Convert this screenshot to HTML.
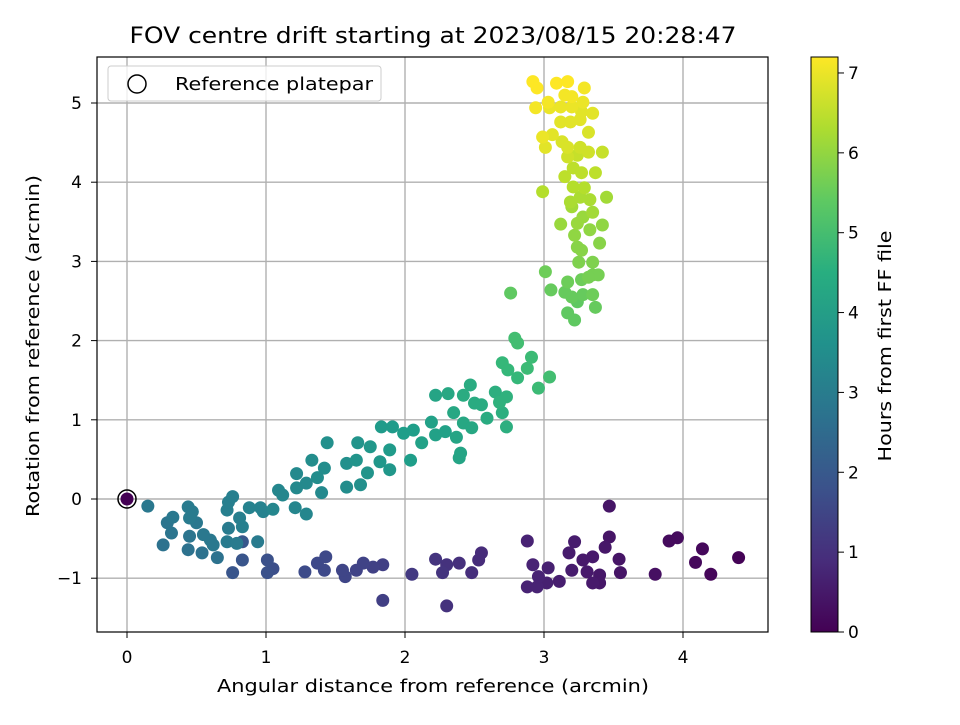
<!DOCTYPE html>
<html><head><meta charset="utf-8"><style>
body{margin:0;background:#fff;font-family:"Liberation Sans","DejaVu Sans",sans-serif}
svg text{font-family:"DejaVu Sans","Liberation Sans",sans-serif;fill:#000}
</style></head><body>
<svg id="c" width="960" height="720" viewBox="0 0 960 720" xmlns="http://www.w3.org/2000/svg">
<defs><linearGradient id="vir" x1="0" y1="1" x2="0" y2="0">
<stop offset="0" stop-color="#440154"/><stop offset="0.125" stop-color="#472d7b"/><stop offset="0.25" stop-color="#3b528b"/><stop offset="0.375" stop-color="#2c728e"/><stop offset="0.5" stop-color="#21918c"/><stop offset="0.625" stop-color="#28ae80"/><stop offset="0.75" stop-color="#5ec962"/><stop offset="0.875" stop-color="#addc30"/><stop offset="1" stop-color="#fde725"/></linearGradient></defs>
<g id="grid"></g>
<g id="pts"></g>
<rect x="97" y="57" width="671" height="575" fill="none" stroke="#000" stroke-width="1.2"/>
<g id="ticks"></g>
<text x="433" y="43" font-size="22" text-anchor="middle" textLength="607" lengthAdjust="spacingAndGlyphs">FOV centre drift starting at 2023/08/15 20:28:47</text>
<text x="433" y="692" font-size="18" text-anchor="middle" textLength="432" lengthAdjust="spacingAndGlyphs">Angular distance from reference (arcmin)</text>
<text x="39" y="346" font-size="18" text-anchor="middle" textLength="342" lengthAdjust="spacingAndGlyphs" transform="rotate(-90 39 346)">Rotation from reference (arcmin)</text>
<g>
<rect x="108" y="66" width="273" height="35" rx="3" fill="#fff" fill-opacity="0.8" stroke="#ccc"/>
<circle cx="137" cy="84" r="9" fill="none" stroke="#000" stroke-width="1.5"/>
<text x="175" y="90" font-size="18" textLength="198" lengthAdjust="spacingAndGlyphs">Reference platepar</text>
</g>
<rect x="811" y="57" width="27" height="575" fill="url(#vir)" stroke="#000" stroke-width="1"/>
<g id="cbt"></g>
<text x="891" y="346" font-size="18" text-anchor="middle" textLength="231" lengthAdjust="spacingAndGlyphs" transform="rotate(-90 891 346)">Hours from first FF file</text>
</svg>
<script>
const xs=[4.40,4.20,4.09,4.14,3.96,3.90,3.80,3.47,3.47,3.54,3.55,3.44,3.40,3.35,3.35,3.28,3.20,3.22,3.18,3.31,3.40,3.03,3.11,2.92,2.88,2.88,2.95,3.02,2.96,2.55,2.53,2.48,2.39,2.30,2.22,2.27,2.30,2.05,1.84,1.84,1.77,1.70,1.65,1.57,1.55,1.43,1.42,1.37,1.28,1.05,1.01,1.01,0.76,0.83,0.83,
0.15,0.26,0.29,0.33,0.32,0.44,0.47,0.45,0.50,0.45,0.44,0.54,0.55,0.60,0.62,0.65,0.72,0.73,0.72,0.73,0.76,0.79,0.83,0.81,0.88,0.94,0.96,0.98,1.05,1.09,1.12,1.21,1.22,1.22,1.29,1.29,1.33,1.37,1.40,1.42,1.44,1.58,1.58,1.66,1.68,1.65,1.73,1.75,1.82,1.83,1.89,1.89,1.91,1.99,2.04,2.06,2.12,2.19,2.22,2.22,2.29,2.37,2.40,2.39,2.31,2.35,2.42,2.47,2.42,2.48,2.50,2.55,2.59,2.65,2.70,2.68,2.73,2.73,2.70,2.74,2.79,2.81,2.81,2.88,2.91,2.96,3.04,2.76,
2.92,2.95,3.09,3.17,3.29,3.15,3.20,2.94,3.03,3.04,3.12,3.20,3.28,3.27,3.35,3.12,3.19,3.26,3.32,2.99,3.06,3.01,3.13,3.17,3.26,3.32,3.42,3.17,3.24,3.21,3.15,3.27,3.37,3.21,2.99,3.29,3.19,3.26,3.33,3.45,3.35,3.20,3.28,3.12,3.24,3.42,3.33,3.22,3.40,3.24,3.27,3.25,3.35,3.01,3.35,3.39,3.27,3.17,3.32,3.05,3.15,3.20,3.28,3.35,3.24,3.37,3.17,3.22];
const ys=[-0.74,-0.95,-0.80,-0.63,-0.49,-0.53,-0.95,-0.09,-0.48,-0.76,-0.93,-0.61,-0.96,-1.06,-0.73,-0.77,-0.90,-0.54,-0.68,-0.92,-1.06,-0.87,-1.04,-0.83,-0.53,-1.11,-1.11,-1.06,-0.98,-0.68,-0.77,-0.93,-0.81,-0.83,-0.76,-0.93,-1.35,-0.95,-0.83,-1.28,-0.86,-0.81,-0.90,-0.98,-0.90,-0.73,-0.90,-0.81,-0.92,-0.88,-0.93,-0.77,-0.93,-0.77,-0.54,
-0.09,-0.58,-0.30,-0.23,-0.43,-0.10,-0.16,-0.24,-0.30,-0.47,-0.64,-0.68,-0.45,-0.52,-0.58,-0.74,-0.54,-0.37,-0.14,-0.04,0.03,-0.56,-0.35,-0.24,-0.11,-0.54,-0.11,-0.16,-0.13,0.11,0.05,-0.11,0.14,0.32,-0.19,0.20,0.49,0.27,0.08,0.39,0.71,0.15,0.45,0.71,0.18,0.49,0.33,0.66,0.47,0.91,0.37,0.62,0.91,0.83,0.49,0.87,0.71,0.97,1.31,0.81,0.85,0.78,0.58,0.52,1.33,1.09,0.96,1.44,1.31,0.90,1.21,1.19,1.02,1.35,1.09,1.22,1.29,0.91,1.72,1.63,2.03,1.97,1.53,1.65,1.79,1.40,1.54,2.60,
5.27,5.19,5.25,5.27,5.19,5.10,5.08,4.94,5.01,4.94,4.95,4.95,5.01,4.89,4.87,4.76,4.76,4.79,4.63,4.57,4.60,4.44,4.51,4.44,4.44,4.38,4.38,4.32,4.34,4.18,4.07,4.12,4.12,3.94,3.88,3.93,3.75,3.81,3.78,3.81,3.62,3.69,3.56,3.47,3.48,3.46,3.40,3.33,3.23,3.18,3.14,2.99,2.99,2.87,2.83,2.83,2.77,2.74,2.80,2.64,2.61,2.55,2.58,2.58,2.49,2.42,2.35,2.26];
const ts=[0.05,0.1,0.15,0.15,0.2,0.2,0.3,0.4,0.4,0.4,0.4,0.45,0.45,0.5,0.5,0.5,0.55,0.55,0.55,0.5,0.45,0.65,0.6,0.7,0.7,0.7,0.7,0.65,0.7,0.9,0.9,0.95,1.0,1.05,1.1,1.1,1.05,1.2,1.35,1.35,1.4,1.45,1.45,1.5,1.5,1.6,1.6,1.6,1.65,1.75,1.8,1.8,1.9,1.9,1.95,
2.9,2.7,2.8,2.9,2.8,3.0,3.0,3.0,2.9,2.8,2.7,2.7,2.9,2.9,2.9,2.7,3.0,3.0,3.1,3.1,3.1,3.0,3.1,3.1,3.2,3.0,3.2,3.2,3.3,3.3,3.3,3.3,3.4,3.4,3.3,3.4,3.5,3.5,3.4,3.5,3.6,3.5,3.6,3.7,3.6,3.7,3.7,3.8,3.8,3.9,3.8,3.9,3.9,4.0,4.0,4.0,4.1,4.1,4.2,4.1,4.1,4.2,4.2,4.2,4.3,4.3,4.3,4.4,4.4,4.3,4.4,4.4,4.4,4.5,4.5,4.6,4.6,4.5,4.8,4.8,5.0,5.0,4.8,4.9,4.9,4.9,5.0,5.4,
7.2,7.2,7.2,7.2,7.1,7.1,7.1,7.1,7.1,7.0,7.0,7.0,7.0,6.9,6.9,6.9,6.9,6.9,6.8,7.0,6.9,6.9,6.8,6.8,6.7,6.7,6.6,6.7,6.6,6.5,6.5,6.5,6.5,6.4,6.4,6.4,6.3,6.3,6.3,6.2,6.2,6.2,6.1,6.1,6.1,6.0,6.0,6.0,5.9,5.9,5.9,5.8,5.8,5.6,5.7,5.7,5.6,5.6,5.7,5.5,5.5,5.5,5.5,5.6,5.4,5.5,5.4,5.4];
const xTicks=[0,1,2,3,4];
const yTicks=[-1,0,1,2,3,4,5];
const cTicks=[0,1,2,3,4,5,6,7];
const refX=0, refY=0, tMax=7.2;

const NS='http://www.w3.org/2000/svg';
const X=v=>127+v*139, Y=v=>499-v*79.2, CY=v=>632-v*(575/tMax);
const vir=[[68,1,84],[72,40,120],[62,73,137],[49,104,142],[38,130,142],[31,158,137],[53,183,121],[109,205,89],[180,222,44],[253,231,37]];
function col(t){let f=Math.max(0,Math.min(1,t/tMax))*(vir.length-1);let i=Math.min(vir.length-2,Math.floor(f));let r=f-i;
return 'rgb('+vir[i].map((c,k)=>Math.round(c+(vir[i+1][k]-c)*r)).join(',')+')';}
function mk(tag,at,parent){const e=document.createElementNS(NS,tag);for(const k in at)e.setAttribute(k,at[k]);parent.appendChild(e);return e;}
const grid=document.getElementById('grid'),tk=document.getElementById('ticks'),pts=document.getElementById('pts'),cbt=document.getElementById('cbt');
xTicks.forEach(v=>{
 const g=mk('line',{x1:X(v),x2:X(v),y1:57,y2:632,stroke:'#b0b0b0','stroke-width':1.4},grid);
 
 
 const l=mk('line',{x1:X(v),x2:X(v),y1:632,y2:638,stroke:'#000'},tk);
 
 
 const t=mk('text',{x:X(v),y:663,'font-size':17,'text-anchor':'middle'},tk);t.textContent=v;
 
 
});
yTicks.forEach(v=>{
 const g=mk('line',{x1:97,x2:768,y1:Y(v),y2:Y(v),stroke:'#b0b0b0','stroke-width':1.4},grid);
 
 
 const l=mk('line',{x1:91,x2:97,y1:Y(v),y2:Y(v),stroke:'#000'},tk);
 
 
 const t=mk('text',{x:82,y:Y(v)+6,'font-size':17,'text-anchor':'end'},tk);t.textContent=v<0?'\u2212'+(-v):v;
 
 
});
cTicks.forEach(v=>{
 const l=mk('line',{x1:838,x2:844,y1:CY(v),y2:CY(v),stroke:'#000'},cbt);
 
 
 const t=mk('text',{x:848,y:CY(v)+6,'font-size':17},cbt);t.textContent=v;
 
 
});
const idx=xs.map((_,i)=>i).sort((a,b)=>ts[a]-ts[b]);
idx.forEach(i=>{
 const c=mk('circle',{cx:X(xs[i]),cy:Y(ys[i]),r:6.5,fill:col(ts[i])},pts);
 
 
});
const r1=mk('circle',{cx:X(refX),cy:Y(refY),r:9,fill:'none',stroke:'#000','stroke-width':1.5},pts);


const r2=mk('circle',{cx:X(refX),cy:Y(refY),r:6.5,fill:col(0)},pts);


</script>
</body></html>
